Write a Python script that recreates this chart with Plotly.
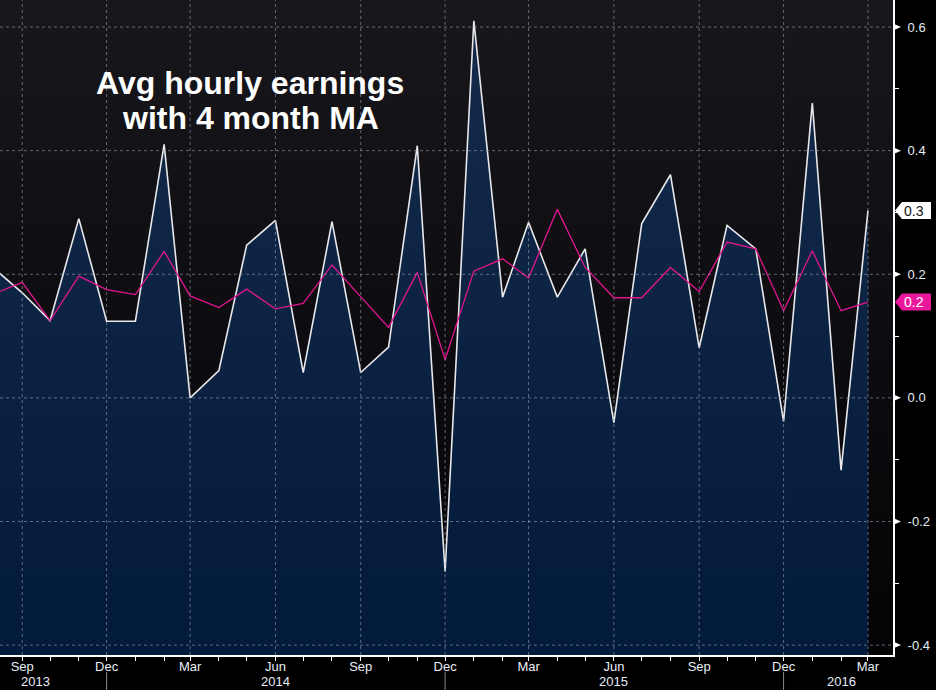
import pandas as pd
import plotly.graph_objects as go

# ---------------- data ----------------
MONTHS = pd.date_range("2013-08-01", periods=32, freq="MS")

AHE = [0.21, 0.17, 0.125, 0.29, 0.124, 0.124, 0.41, 0.0, 0.044, 0.247, 0.287, 0.041,
       0.285, 0.041, 0.082, 0.408, -0.281, 0.61, 0.163, 0.284, 0.163, 0.241, -0.04, 0.282,
       0.361, 0.081, 0.279, 0.241, -0.038, 0.477, -0.117, 0.303]

MA4 = [0.168, 0.187, 0.125, 0.197, 0.175, 0.167, 0.237, 0.165, 0.146, 0.176, 0.144, 0.153,
       0.215, 0.163, 0.114, 0.203, 0.062, 0.205, 0.225, 0.194, 0.305, 0.211, 0.162, 0.162,
       0.211, 0.172, 0.252, 0.241, 0.141, 0.238, 0.141, 0.155]

X_TICKS = ["2013-09-01", "2013-12-01", "2014-03-01", "2014-06-01", "2014-09-01", "2014-12-01",
           "2015-03-01", "2015-06-01", "2015-09-01", "2015-12-01", "2016-03-01"]
X_TICK_LABELS = ["Sep", "Dec", "Mar", "Jun", "Sep", "Dec", "Mar", "Jun", "Sep", "Dec", "Mar"]
YEARS = ["2013", "2014", "2015", "2016"]
YEAR_LABEL_AT = ["2013-09-15", "2014-06-01", "2015-06-01", "2016-02-01"]
YEAR_SEPARATORS = ["2013-12-01", "2014-12-01", "2015-12-01"]

Y_TICKS = [-0.4, -0.2, 0.0, 0.2, 0.4, 0.6]
Y_TICK_LABELS = ["-0.4", "-0.2", "0.0", "0.2", "0.4", "0.6"]
Y_MINOR = [-0.3, -0.1, 0.1, 0.3, 0.5]

X_RANGE = ["2013-08-08", "2016-03-28"]
Y_RANGE = [-0.416, 0.6437]

TITLE_1 = "Avg hourly earnings"
TITLE_2 = "with 4 month MA"

# ---------------- styles ----------------
W, H = 936, 690
ML, MR, MT, MB = 0, 43, 0, 35
PH = H - MT - MB
FONT = "Liberation Sans"
TXT = "#e6edf5"
GRID = "rgba(155,160,175,0.6)"
MAGENTA = "#e0168f"

fig = go.Figure()

# background gradient of the plot area
fig.add_trace(go.Scatter(x=X_RANGE, y=[Y_RANGE[0]] * 2, mode="lines",
                         line=dict(width=0), hoverinfo="skip"))
fig.add_trace(go.Scatter(x=X_RANGE, y=[Y_RANGE[1]] * 2, mode="lines",
                         line=dict(width=0), fill="tonexty",
                         fillgradient=dict(type="vertical",
                                           colorscale=[[0, "#040406"], [0.5, "#0d0d11"], [1, "#18181c"]],
                                           start=Y_RANGE[0], stop=Y_RANGE[1]),
                         hoverinfo="skip"))

# area under the earnings line
fig.add_trace(go.Scatter(x=MONTHS, y=[Y_RANGE[0]] * len(MONTHS), mode="lines",
                         line=dict(width=0), hoverinfo="skip"))
fig.add_trace(go.Scatter(x=MONTHS, y=AHE, mode="lines",
                         line=dict(color="#e8e8ea", width=1.6), fill="tonexty",
                         fillgradient=dict(type="vertical",
                                           colorscale=[[0, "#021a3b"], [1, "#162b4b"]],
                                           start=Y_RANGE[0], stop=Y_RANGE[1])))
fig.add_trace(go.Scatter(x=MONTHS, y=MA4, mode="lines",
                         line=dict(color=MAGENTA, width=1.3)))

shapes = []
# grid lines (drawn above the filled area)
for v in Y_TICKS:
    shapes.append(dict(type="line", xref="paper", yref="y", x0=0, x1=1, y0=v, y1=v,
                       line=dict(color=GRID, width=1, dash="3px,3px"), layer="above"))
for d in X_TICKS:
    shapes.append(dict(type="line", xref="x", yref="paper", x0=d, x1=d, y0=0, y1=1,
                       line=dict(color=GRID, width=1, dash="3px,3px"), layer="above"))
# right-axis tick markers
for v in Y_TICKS:
    shapes.append(dict(type="path", xref="paper", yref="y", xsizemode="pixel", ysizemode="pixel",
                       xanchor=1, yanchor=v, path="M0,-3.5 L8,0 L0,3.5 Z",
                       fillcolor="white", line=dict(width=0), layer="above"))
# year separators below the month labels
for d in YEAR_SEPARATORS:
    shapes.append(dict(type="line", xref="x", yref="paper", x0=d, x1=d,
                       y0=-17 / PH, y1=-35 / PH, line=dict(color="#8a8a8a", width=1)))
# last-value boxes
last_boxes = [(AHE[-1], "white", "#101010"), (MA4[-1], "#e8179b", "white")]
for val, bg, fg in last_boxes:
    shapes.append(dict(type="path", xref="paper", yref="y", xsizemode="pixel", ysizemode="pixel",
                       xanchor=1, yanchor=val, path="M2,0 L9,8.5 L38,8.5 L38,-8.5 L9,-8.5 Z",
                       fillcolor=bg, line=dict(width=0), layer="above"))

annotations = []
for val, bg, fg in last_boxes:
    annotations.append(dict(xref="paper", yref="y", x=1, y=val, xanchor="left", yanchor="middle",
                            xshift=9, text=f"{val:.1f}", showarrow=False,
                            font=dict(family=FONT, size=14, color=fg)))
for yr, pos in zip(YEARS, YEAR_LABEL_AT):
    annotations.append(dict(xref="x", yref="paper", x=pos, y=-26 / PH, xanchor="center",
                            yanchor="middle", text=yr, showarrow=False,
                            font=dict(family=FONT, size=13, color=TXT)))
annotations.append(dict(xref="paper", yref="paper", x=250 / (W - ML - MR), y=(PH - 83) / PH,
                        xanchor="center", yanchor="middle", text=f"<b>{TITLE_1}</b>",
                        showarrow=False, font=dict(family=FONT, size=32, color="white")))
annotations.append(dict(xref="paper", yref="paper", x=250 / (W - ML - MR), y=(PH - 118) / PH,
                        xanchor="center", yanchor="middle", text=f"<b>{TITLE_2}</b>",
                        showarrow=False, font=dict(family=FONT, size=32, color="white")))

fig.update_layout(
    width=W, height=H, margin=dict(l=ML, r=MR, t=MT, b=MB),
    paper_bgcolor="black", plot_bgcolor="black", showlegend=False,
    shapes=shapes, annotations=annotations,
    xaxis=dict(type="date", range=X_RANGE, tickmode="array", tickvals=X_TICKS,
               ticktext=X_TICK_LABELS, ticks="outside", ticklen=4, tickwidth=1,
               tickcolor="white", showline=True, linecolor="white", linewidth=2,
               showgrid=False, zeroline=False, ticklabelstandoff=-6,
               tickfont=dict(family=FONT, size=13, color=TXT),
               minor=dict(tickmode="array", tickvals=list(MONTHS), ticks="outside",
                          ticklen=4, tickcolor="white", showgrid=False)),
    yaxis=dict(side="right", range=Y_RANGE, tickmode="array", tickvals=Y_TICKS,
               ticktext=Y_TICK_LABELS, ticks="", showline=True, linecolor="white",
               linewidth=2, showgrid=False, zeroline=False, ticklabelstandoff=10,
               tickfont=dict(family=FONT, size=13, color=TXT),
               minor=dict(tickmode="array", tickvals=Y_MINOR, ticks="outside",
                          ticklen=4, tickcolor="white", showgrid=False)),
)

fig.write_html("out.html")
